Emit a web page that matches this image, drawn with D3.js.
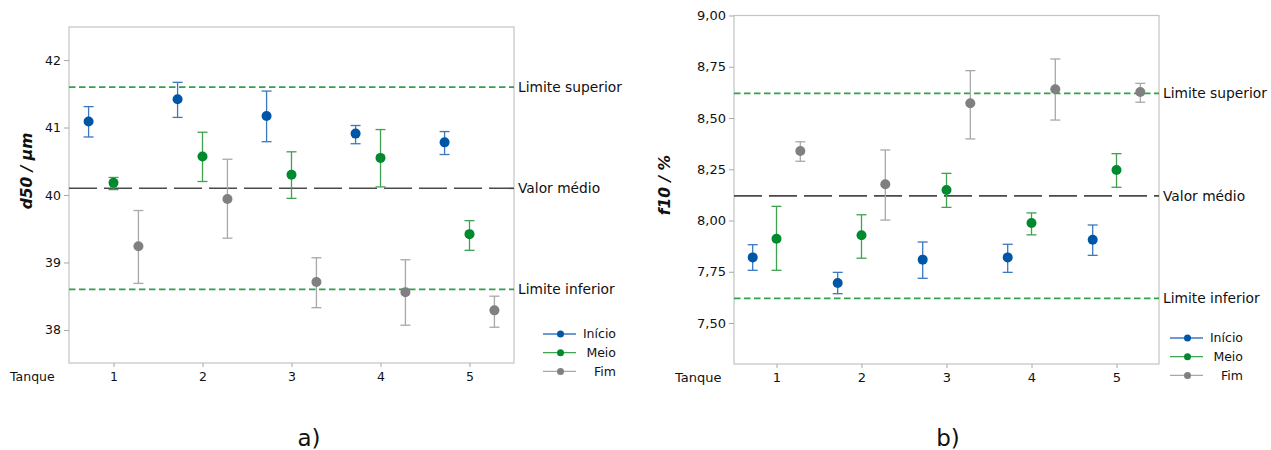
<!DOCTYPE html>
<html>
<head>
<meta charset="utf-8">
<script src="https://cdn.jsdelivr.net/npm/d3@7"></script>
<style>
body { margin: 0; background: #fff; }
text { font-family: "DejaVu Sans", sans-serif; }
</style>
</head>
<body>
<svg id="chart" width="1271" height="450"></svg>
<script>
const tanques = [1, 2, 3, 4, 5];
const grupos = ["Início", "Meio", "Fim"];
const linhasNomes = ["Limite superior", "Valor médio", "Limite inferior"];

// each entry: [inferior, média, superior]
const d50Inicio = [[40.86, 41.09, 41.31], [41.15, 41.42, 41.67], [40.79, 41.17, 41.54], [40.76, 40.91, 41.03], [40.60, 40.78, 40.94]];
const d50Meio = [[40.08, 40.18, 40.26], [40.20, 40.57, 40.93], [39.95, 40.30, 40.64], [40.12, 40.55, 40.97], [39.18, 39.42, 39.62]];
const d50Fim = [[38.69, 39.24, 39.77], [39.36, 39.94, 40.53], [38.33, 38.71, 39.07], [38.07, 38.56, 39.04], [38.04, 38.29, 38.50]];
const d50Linhas = [41.6, 40.1, 38.6];
const d50Ticks = [38, 39, 40, 41, 42];

const f10Inicio = [[7.757, 7.82, 7.882], [7.643, 7.695, 7.747], [7.718, 7.809, 7.895], [7.747, 7.82, 7.884], [7.83, 7.906, 7.978]];
const f10Meio = [[7.757, 7.911, 8.069], [7.816, 7.928, 8.028], [8.064, 8.149, 8.23], [7.93, 7.988, 8.037], [8.162, 8.246, 8.326]];
const f10Fim = [[8.289, 8.339, 8.384], [8.002, 8.177, 8.344], [8.398, 8.572, 8.731], [8.49, 8.64, 8.788], [8.577, 8.627, 8.669]];
const f10Linhas = [8.62, 8.12, 7.62];
const f10Ticks = [7.50, 7.75, 8.00, 8.25, 8.50, 8.75, 9.00];

const corPonto = ["#0056a6", "#008a2e", "#808080"];
const corBarra = ["#3b78c0", "#3ea24f", "#a8a8a8"];
const offsets = [-0.28, 0, 0.28];

const svg = d3.select("#chart");

function painel(cfg) {
	const {x0, y0, x1, y1, domain, ticks, fmt, series, linhas, titulo, letra, fs} = cfg;

	const x = d3.scaleLinear().domain([0.5, 5.5]).range([x0, x1]);
	const y = d3.scaleLinear().domain(domain).range([y1, y0]);
	const g = svg.append("g");

	// frame
	g.append("rect")
		.attr("x", x0).attr("y", y0)
		.attr("width", x1 - x0).attr("height", y1 - y0)
		.attr("fill", "none").attr("stroke", "#c4c4c4").attr("stroke-width", 1.2);

	// axes
	const ay = g.append("g")
		.attr("transform", `translate(${x0},0)`)
		.call(d3.axisLeft(y).tickValues(ticks).tickFormat(fmt).tickSize(5).tickPadding(3));
	const ax = g.append("g")
		.attr("transform", `translate(0,${y1})`)
		.call(d3.axisBottom(x).tickValues(tanques).tickFormat(d3.format("d")).tickSize(4).tickPadding(5));
	for (const a of [ay, ax]) {
		a.select(".domain").remove();
		a.selectAll("line").attr("stroke", "#a8a8a8");
		a.selectAll("text").attr("fill", "#111").attr("font-size", fs + "px")
			.attr("font-family", "DejaVu Sans, sans-serif");
	}

	g.append("text")
		.attr("x", x0 - 59).attr("y", y1 + 18)
		.attr("font-size", fs + "px").attr("fill", "#111")
		.text("Tanque");

	// y title
	g.append("text")
		.attr("transform", `translate(${cfg.titX},${cfg.titY}) rotate(-90)`)
		.attr("text-anchor", "middle")
		.attr("dy", "0.35em")
		.attr("font-size", "15.5px").attr("font-weight", "bold").attr("font-style", "italic")
		.attr("fill", "#111")
		.text(titulo);

	// reference lines
	linhas.forEach((v, i) => {
		const media = i === 1;
		g.append("line")
			.attr("x1", x0).attr("x2", x1)
			.attr("y1", y(v)).attr("y2", y(v))
			.attr("stroke", media ? "#4a4a4a" : "#33a04c")
			.attr("stroke-width", media ? 1.7 : 1.7)
			.attr("stroke-dasharray", media ? "28,7" : "6.5,3.5");
		g.append("text")
			.attr("x", x1 + 4).attr("y", y(v))
			.attr("dy", "0.35em")
			.attr("font-size", "13.8px").attr("fill", "#111")
			.text(linhasNomes[i]);
	});

	// interval marks
	series.forEach((s, k) => {
		const pts = s.map((d, i) => ({t: tanques[i], lo: d[0], m: d[1], hi: d[2]}));
		const gs = g.append("g");
		const cx = d => x(d.t + offsets[k]);
		gs.selectAll(".v").data(pts).join("line")
			.attr("x1", cx).attr("x2", cx)
			.attr("y1", d => y(d.lo)).attr("y2", d => y(d.hi))
			.attr("stroke", corBarra[k]).attr("stroke-width", 1.3);
		for (const key of ["lo", "hi"]) {
			gs.selectAll(".c" + key).data(pts).join("line")
				.attr("x1", d => cx(d) - 5).attr("x2", d => cx(d) + 5)
				.attr("y1", d => y(d[key])).attr("y2", d => y(d[key]))
				.attr("stroke", corBarra[k]).attr("stroke-width", 1.3);
		}
		gs.selectAll("circle").data(pts).join("circle")
			.attr("cx", cx).attr("cy", d => y(d.m))
			.attr("r", 5)
			.attr("fill", corPonto[k]);
	});

	// legend
	const lg = g.append("g");
	grupos.forEach((nome, k) => {
		const ly = cfg.legY + k * 18.7;
		lg.append("line")
			.attr("x1", cfg.legX).attr("x2", cfg.legX + 33)
			.attr("y1", ly).attr("y2", ly)
			.attr("stroke", corBarra[k]).attr("stroke-width", 1.3);
		lg.append("circle")
			.attr("cx", cfg.legX + 17.5).attr("cy", ly).attr("r", 3.5)
			.attr("fill", corPonto[k]);
		lg.append("text")
			.attr("x", cfg.legX + 73).attr("y", ly)
			.attr("dy", "0.35em").attr("text-anchor", "end")
			.attr("font-size", "12.5px").attr("fill", "#111")
			.text(nome);
	});

	svg.append("text")
		.attr("x", letra[0]).attr("y", letra[1])
		.attr("text-anchor", "middle")
		.attr("font-size", "23px").attr("fill", "#111")
		.text(letra[2]);
}

painel({
	x0: 69, y0: 27, x1: 514, y1: 363,
	domain: [37.51, 42.49], ticks: d50Ticks, fmt: d3.format("d"),
	series: [d50Inicio, d50Meio, d50Fim], linhas: d50Linhas,
	titulo: "d50 / µm", fs: 12.5, titX: 27, titY: 171,
	legX: 543, legY: 334,
	letra: [309, 446, "a)"]
});

painel({
	x0: 734, y0: 15.5, x1: 1159, y1: 364,
	domain: [7.30, 9.00], ticks: f10Ticks, fmt: v => d3.format(".2f")(v).replace(".", ","),
	series: [f10Inicio, f10Meio, f10Fim], linhas: f10Linhas,
	titulo: "f10 / %", fs: 13, titX: 665, titY: 185,
	legX: 1170, legY: 338,
	letra: [948, 446, "b)"]
});
</script>
</body>
</html>
